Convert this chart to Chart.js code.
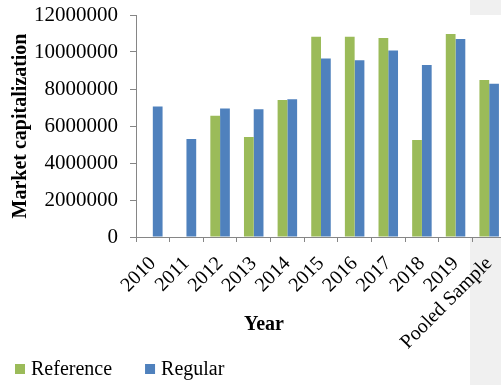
<!DOCTYPE html>
<html>
<head>
<meta charset="utf-8">
<script src="https://cdn.jsdelivr.net/npm/chart.js@4/dist/chart.umd.min.js"></script>
<style>
  html, body { margin: 0; padding: 0; overflow: hidden; }
  body {
    width: 501px; height: 385px;
    background: linear-gradient(to right, #ffffff 470px, #f0f0f0 470px);
  }
  canvas { display: block; }
</style>
</head>
<body>
<canvas id="chart" width="520" height="385"></canvas>
<script>
// Market capitalization by year, reference vs regular firms
const categories = ['2010', '2011', '2012', '2013', '2014', '2015', '2016', '2017', '2018', '2019', 'Pooled Sample'];
const referenceValues = [null, null, 6550000, 5400000, 7400000, 10830000, 10830000, 10760000, 5240000, 10970000, 8480000];
const regularValues = [7050000, 5300000, 6950000, 6900000, 7450000, 9650000, 9550000, 10080000, 9300000, 10700000, 8280000];
const yTicks = [0, 2000000, 4000000, 6000000, 8000000, 10000000, 12000000];

const SERIF = "'Liberation Serif', 'Times New Roman', serif";
const AXIS_GREY = '#868686';

// White plot area, the x-axis title and a flat legend along the bottom
const decor = {
  id: 'decor',
  beforeDraw(chart) {
    const { ctx, chartArea: a } = chart;
    ctx.save();
    ctx.fillStyle = '#ffffff';
    ctx.fillRect(a.left, a.top, a.right - a.left, a.bottom - a.top);
    ctx.restore();
  },
  afterDraw(chart) {
    const { ctx } = chart;
    ctx.save();
    ctx.fillStyle = '#000';
    ctx.font = 'bold 20px ' + SERIF;
    ctx.textAlign = 'center';
    ctx.textBaseline = 'middle';
    ctx.fillText('Year', 264, 325);

    ctx.font = '20px ' + SERIF;
    ctx.textAlign = 'left';
    let x = 15;
    const y = 369;
    chart.data.datasets.forEach(ds => {
      ctx.fillStyle = ds.backgroundColor;
      ctx.fillRect(x, y - 5, 10, 10);
      ctx.fillStyle = '#000';
      ctx.fillText(ds.label, x + 16, y + 1);
      x += 16 + ctx.measureText(ds.label).width + 33;
    });
    ctx.restore();
  }
};

new Chart(document.getElementById('chart'), {
  type: 'bar',
  data: {
    labels: categories,
    datasets: [
      { label: 'Reference', data: referenceValues, backgroundColor: '#9BBB59' },
      { label: 'Regular', data: regularValues, backgroundColor: '#4F81BD' }
    ]
  },
  options: {
    responsive: false,
    animation: false,
    devicePixelRatio: 1,
    layout: { padding: { left: 0, top: 15, right: 14, bottom: 0 } },
    datasets: { bar: { categoryPercentage: 0.58, barPercentage: 1 } },
    plugins: { legend: { display: false }, tooltip: { enabled: false } },
    scales: {
      x: {
        afterFit(scale) { scale.height = 148; },
        border: { display: true, color: AXIS_GREY, width: 1 },
        grid: { drawOnChartArea: false, drawTicks: true, tickLength: 5, color: AXIS_GREY, offset: true },
        ticks: {
          color: '#000',
          font: { family: SERIF, size: 20 },
          minRotation: 45, maxRotation: 45,
          autoSkip: false,
          padding: 10
        }
      },
      y: {
        min: 0, max: 12000000,
        afterFit(scale) {
          scale.width = 136;
          scale.paddingTop = 0;
          scale.paddingBottom = 0;
        },
        afterBuildTicks(scale) { scale.ticks = yTicks.map(v => ({ value: v })); },
        border: { display: true, color: AXIS_GREY, width: 1 },
        grid: { drawOnChartArea: false, drawTicks: true, tickLength: 6, color: AXIS_GREY },
        ticks: {
          color: '#000',
          font: { family: SERIF, size: 21 },
          padding: 12,
          callback: v => String(v)
        },
        title: {
          display: true,
          text: 'Market capitalization',
          color: '#000',
          font: { family: SERIF, size: 20, weight: 'bold' },
          padding: { top: 9, bottom: 0 }
        }
      }
    }
  },
  plugins: [decor]
});
</script>
</body>
</html>
